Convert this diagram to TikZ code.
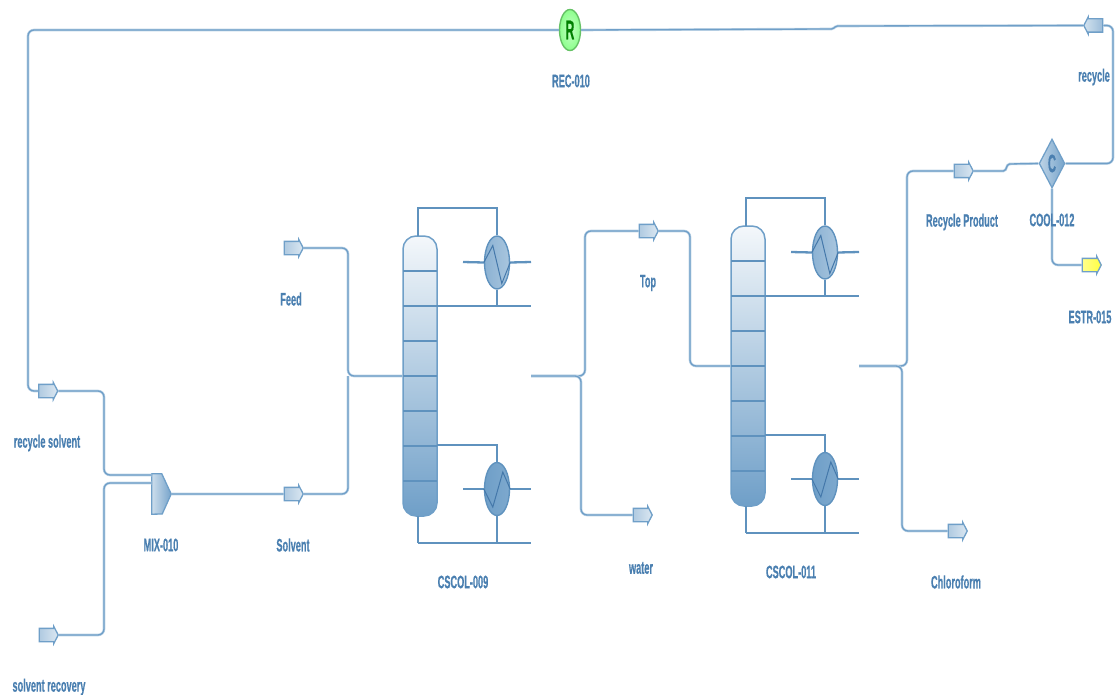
\documentclass[tikz,border=0pt]{standalone}
\usepackage{fontspec}
\setmainfont{Liberation Sans}
\newfontfamily\labfont[FakeBold=0.8]{Liberation Sans Bold}
\usetikzlibrary{shapes.geometric,shapes.arrows}
\definecolor{flowc}{HTML}{6F9FC8}
\definecolor{darkc}{HTML}{5F92BE}
\definecolor{textc}{HTML}{4A7FB0}
\definecolor{zigc}{HTML}{4478AA}
\tikzset{
  flow/.style={draw=flowc,line width=1.3pt,rounded corners=6pt,preaction={draw=flowc!45!white,line width=2.6pt}},
  jog/.style={draw=flowc,line width=1.3pt,rounded corners=1.5pt,preaction={draw=flowc!45!white,line width=2.6pt}},
  hard/.style={draw=darkc,line width=2.3pt},
  stem/.style={draw=darkc,line width=1.7pt},
  zig/.style={draw=zigc,line width=1pt},
  lab/.style={text=textc,font=\labfont\fontsize{18}{18}\selectfont,xscale=.51,transform shape,inner sep=0pt,anchor=center},
  stream/.style={single arrow,single arrow head extend=2pt,single arrow tip angle=125,
    text height=12pt,text depth=0pt,text width=10pt,
    minimum height=19pt,inner sep=0pt,draw=flowc,line width=1.3pt,
    left color=flowc!55!white,right color=flowc!25!white},
  column/.style={draw=flowc,line width=1.5pt,rounded corners=13pt,minimum width=34pt,minimum height=280pt,
    inner sep=0pt,top color=white!92!flowc,bottom color=flowc},
  exch/.style={ellipse,draw=darkc,line width=1.4pt,minimum width=25pt,minimum height=53pt,inner sep=0pt},
}
\newcommand{\mycolumn}[4]{%
\begin{scope}[shift={(#2,#3)}]
  \node[column] (col#1) at (420,376) {};
  \foreach \yy in {271,306,341,376,411,446,481}
    \draw[hard] (403,\yy) -- (437,\yy);
  \node[exch,left color=flowc!80!white,right color=flowc!60!white] (cond#1) at (497,262.5) {};
  \node[exch,left color=flowc,right color=flowc!90!white] (reb#1) at (497,489) {};
  \coordinate (ct#1) at (418,208);
  \coordinate (cb#1) at (418,543);
  \coordinate (ce#1) at (531,543);
  \coordinate (re#1) at (531,306);
  \coordinate (rw#1) at (437,306);
  \coordinate (lw#1) at (437,445);
  \coordinate (ci#1) at (463,262);
  \coordinate (co#1) at (531,262);
  \coordinate (ri#1) at (463,489);
  \coordinate (ro#1) at (531,489);
  \draw[stem] (418,236) -- (ct#1) -| (cond#1.north);
  \draw[hard] (rw#1) -- (re#1);
  \draw[stem] (cond#1.south) -- (cond#1.south |- re#1);
  \draw[hard] (ci#1) -- (cond#1.west);
  \draw[hard] (cond#1.east) -- (co#1);
  \draw[zig] (cond#1.west) -- ++(9,-17) -- ++(9,38) -- (cond#1.east);
  \draw[stem] (lw#1) -| (reb#1.north);
  \draw[hard] (ri#1) -- (reb#1.west);
  \draw[hard] (reb#1.east) -- (ro#1);
  \draw[zig] (reb#1.west) -- ++(9,18) -- ++(10,-35) -- (reb#1.east);
  \draw[stem] (418,516) -- (cb#1);
  \draw[hard] (cb#1) -- (ce#1);
  \draw[stem] (reb#1.south) -- (reb#1.south |- ce#1);
  \node[lab] at (463,#4) {CSCOL-0\ifnum#1=1 09\else 11\fi};
\end{scope}}
\begin{document}
\begin{tikzpicture}[x=1pt,y=-1pt]
\useasboundingbox (0,0) rectangle (1115,695);

\mycolumn{1}{0}{0}{582}
\mycolumn{2}{328}{-10}{582}

\coordinate (mixa) at (152,475);
\coordinate (mixb) at (152,483);
\coordinate (j1) at (348,376);
\coordinate (o1) at (531,376);
\coordinate (j2) at (581,376);
\coordinate (o2) at (859,366);

\node[stream] (recsol) at (46.5,391) {};
\node[stream] (solrec) at (47,635) {};
\node[stream] (feed) at (292,248) {};
\node[stream] (solvent) at (292,494) {};
\node[stream] (top) at (647,231) {};
\node[stream] (water) at (641,515) {};
\node[stream] (recprod) at (962,171) {};
\node[stream] (chloro) at (956,531) {};
\node[stream,shape border rotate=180,left color=flowc!30!white,right color=flowc!70!white] (recycle) at (1095,25.5) {};
\node[stream,left color=yellow!45!white,right color=yellow!75!white] (estr) at (1090,265) {};
\node[ellipse,minimum width=21pt,minimum height=41pt,inner sep=0pt,draw=green!60!black!60!white,line width=1.4pt,
      inner color=green!22!white,outer color=green!45!white,
      text=green!50!black,font=\labfont\fontsize{27}{27}\selectfont] (rec) at (570,30) {\scalebox{.45}[1]{R}};
\node[diamond,minimum width=24pt,minimum height=49pt,inner sep=0pt,draw=flowc,line width=1.3pt,
      left color=flowc!45!white,right color=flowc!95!white,text=textc,font=\labfont\fontsize{25}{25}\selectfont] (cool) at (1052,163.5) {\scalebox{.45}[1]{C}};
\node[minimum width=19pt,minimum height=40pt,inner sep=0pt] (mix) at (161.5,494) {};
\draw[draw=flowc,line width=1.3pt,left color=flowc!35!white,right color=flowc!95!white]
  (mix.north west) -- ++(10,0) -- (mix.east) -- ++(-9,20) -- (mix.south west) -- cycle;

\draw[flow] (rec.west) -| (28,391) -- (recsol.west);
\draw[jog] (rec.east) -- (833,29) -- (836,26) -- (recycle.west);
\draw[flow] (recycle.east) -- (1113,25.5) |- (cool.east);
\draw[jog] (recprod.east) -- (1005,171) -- (1008,164) -- (cool.west);
\draw[flow] (cool.south) |- (estr.west);
\draw[flow] (recsol.east) -| (104,475) -- (mixa);
\draw[flow] (solrec.east) -| (104,483) -- (mixb);
\draw[flow] (mix.east) -- (solvent.west);
\draw[flow] (solvent.east) -| (j1);
\draw[flow] (feed.east) -| (j1) -- (col1.west);
\draw[flow] (o1) -| (585,231) -- (top.west);
\draw[flow] (o1) -- (j2) |- (water.west);
\draw[flow] (top.east) -| (690,366) -- (col2.west);
\draw[flow] (o2) -| (907,171) -- (recprod.west);
\draw[flow] (o2) -| (902,531) -- (chloro.west);

\node[lab] at (571,81) {REC-010};
\node[lab] at (1094,77) {recycle};
\node[lab] at (1052,220) {COOL-012};
\node[lab] at (962,222) {Recycle Product};
\node[lab] at (1090,317) {ESTR-015};
\node[lab] at (291,299) {Feed};
\node[lab] at (648,283) {Top};
\node[lab] at (47,443) {recycle solvent};
\node[lab] at (161,545) {MIX-010};
\node[lab] at (293,545) {Solvent};
\node[lab] at (641,568) {water};
\node[lab] at (956,582) {Chloroform};
\node[lab] at (49,687) {solvent recovery};
\end{tikzpicture}
\end{document}
